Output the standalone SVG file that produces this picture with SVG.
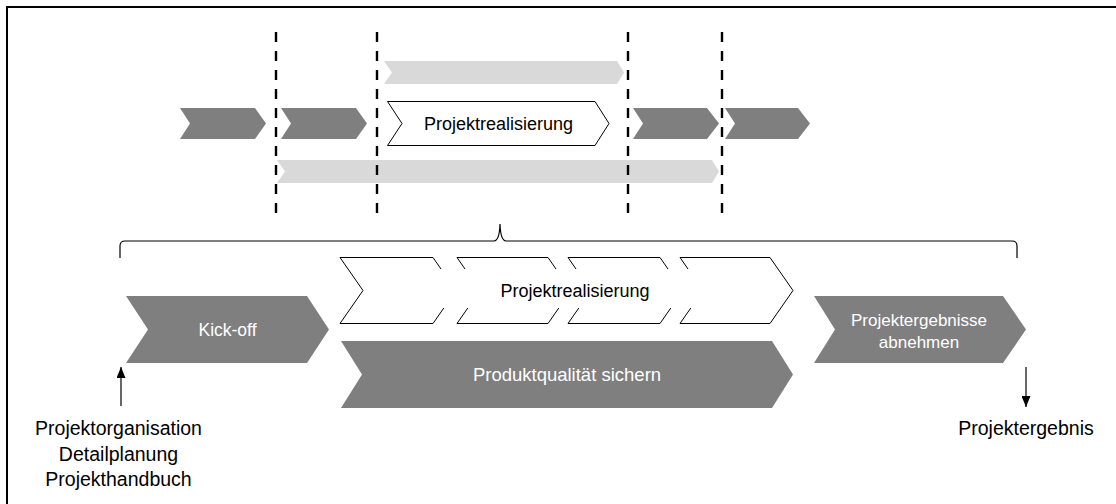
<svg xmlns="http://www.w3.org/2000/svg" width="1116" height="504" viewBox="0 0 1116 504">
  <defs>
    <style>
      .dark { fill: #7f7f7f; stroke: none; }
      .light { fill: #d9d9d9; stroke: none; }
      .outline { fill: #ffffff; stroke: #000000; stroke-width: 1; }
      .dash { stroke: #000000; stroke-width: 2.4; stroke-dasharray: 10 9; fill: none; }
      .line { stroke: #000000; stroke-width: 1.2; fill: none; }
      .lbl { font-family: "Liberation Sans", Arial, sans-serif; text-anchor: middle; }
      .w { fill: #ffffff; }
      .b { fill: #000000; }
    </style>
    <marker id="ah" viewBox="0 0 11 9" refX="11" refY="4.5" markerWidth="11" markerHeight="9" markerUnits="userSpaceOnUse" orient="auto">
      <path d="M0,0 L11,4.5 L0,9 Z" fill="#000000"/>
    </marker>
  </defs>
  <rect width="1116" height="504" fill="#ffffff"/>
  <path d="M7,504 V7 H1116" fill="none" stroke="#000000" stroke-width="2"/>

  <!-- Top timeline -->
  <g id="top-bar-light-1"><polygon class="light" points="384,61 617,61 624,72.5 617,84 384,84 392,72.5"/></g>
  <g id="top-bar-light-2"><polygon class="light" points="277,160 712,160 719,171.5 712,183 277,183 285,171.5"/></g>
  <g id="top-chev-1"><polygon class="dark" points="180,108 255,108 266,123.5 255,139 180,139 190,123.5"/></g>
  <g id="top-chev-2"><polygon class="dark" points="281,108 356,108 367,123.5 356,139 281,139 291,123.5"/></g>
  <g id="top-chev-real">
    <polygon class="outline" points="387.5,101.5 595,101.5 609,123.5 595,145.5 387.5,145.5 402,123.5"/>
    <text class="lbl b" x="498.5" y="129.5" font-size="18">Projektrealisierung</text>
  </g>
  <g id="top-chev-3"><polygon class="dark" points="633,108 707,108 719,123.5 707,139 633,139 643,123.5"/></g>
  <g id="top-chev-4"><polygon class="dark" points="725,108 798,108 810,123.5 798,139 725,139 735,123.5"/></g>

  <g id="dashed-lines">
    <line class="dash" x1="276" y1="32" x2="276" y2="218"/>
    <line class="dash" x1="377" y1="32" x2="377" y2="218"/>
    <line class="dash" x1="628" y1="32" x2="628" y2="218"/>
    <line class="dash" x1="722" y1="32" x2="722" y2="218"/>
  </g>

  <!-- Brace -->
  <g id="brace">
    <path class="line" d="M120,258 V246 Q120,241 125,241 H494 Q499.5,240.5 500,224 Q500.5,240.5 506,241 H1012 Q1017,241 1017,246 V258"/>
  </g>

  <!-- Bottom process -->
  <g id="kickoff">
    <polygon class="dark" points="126,296 307,296 329,329.5 307,363 126,363 148,329.5"/>
    <text class="lbl w" x="227.5" y="335.5" font-size="17.5">Kick-off</text>
  </g>
  <g id="realisierung">
    <polygon class="outline" points="340,257.5 433,257.5 456,290.5 433,323.5 340,323.5 363,290.5"/>
    <polygon class="outline" points="457,257.5 548,257.5 571,290.5 548,323.5 457,323.5 480,290.5"/>
    <polygon class="outline" points="568,257.5 660,257.5 683,290.5 660,323.5 568,323.5 591,290.5"/>
    <polygon class="outline" points="680,257.5 770,257.5 793,290.5 770,323.5 680,323.5 703,290.5"/>
    <rect x="438" y="269" width="274" height="39" fill="#ffffff"/>
    <text class="lbl b" x="575" y="297" font-size="18">Projektrealisierung</text>
  </g>
  <g id="qualitaet">
    <polygon class="dark" points="341,341 772,341 793,374.5 772,408 341,408 362,374.5"/>
    <text class="lbl w" x="567" y="381" font-size="18.5">Produktqualität sichern</text>
  </g>
  <g id="abnahme">
    <polygon class="dark" points="814,296 1003,296 1026,329.5 1003,363 814,363 835,329.5"/>
    <text class="lbl w" x="919" y="325.5" font-size="17">Projektergebnisse</text>
    <text class="lbl w" x="919" y="347.5" font-size="17">abnehmen</text>
  </g>

  <g id="connectors">
    <line class="line" x1="121" y1="406" x2="121" y2="367" marker-end="url(#ah)"/>
    <line class="line" x1="1026" y1="367" x2="1026" y2="407" marker-end="url(#ah)"/>
  </g>

  <g id="input-label">
    <text class="lbl b" x="118.5" y="435" font-size="19.5">Projektorganisation</text>
    <text class="lbl b" x="118.5" y="460.5" font-size="19.5">Detailplanung</text>
    <text class="lbl b" x="118.5" y="486" font-size="19.5">Projekthandbuch</text>
  </g>
  <g id="output-label">
    <text class="lbl b" x="1026" y="435" font-size="19.5">Projektergebnis</text>
  </g>
</svg>
